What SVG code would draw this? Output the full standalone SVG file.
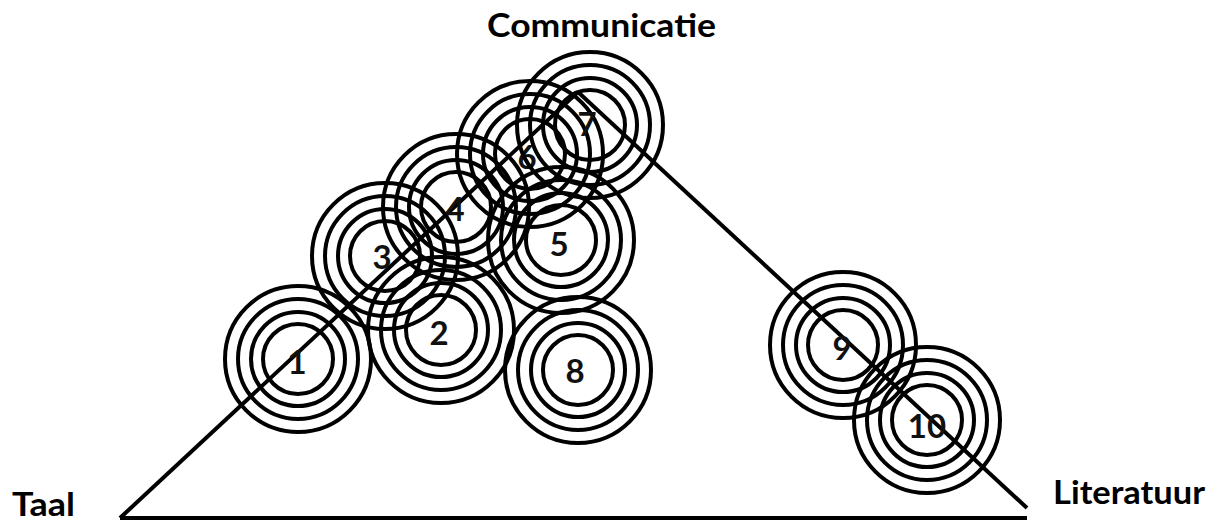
<svg xmlns="http://www.w3.org/2000/svg" width="1219" height="521" viewBox="0 0 1219 521">
<style>
.ring{fill:none;stroke:#000;stroke-width:4}
.edge{fill:none;stroke:#000;stroke-width:4;stroke-linecap:butt}
.num{font-family:Lato,"Liberation Sans",sans-serif;font-weight:bold;font-size:33px;fill:#111;text-anchor:middle;dominant-baseline:central}
.lbl{font-family:Lato,"Liberation Sans",sans-serif;font-weight:bold;font-size:32px;fill:#000}
</style>
<defs>
<g id="target">
<circle class="ring" r="35"/>
<circle class="ring" r="47"/>
<circle class="ring" r="60"/>
<circle class="ring" r="73"/>
</g>
</defs>
<rect width="1219" height="521" fill="#fff"/>
<g id="connectors">
<line class="edge" x1="120" y1="518" x2="1027" y2="518"/>
<line class="edge" x1="120" y1="518" x2="578" y2="92"/>
<line class="edge" x1="578" y1="92" x2="1027" y2="508"/>
</g>
<g id="node1"><use href="#target" x="298" y="359"/><text class="num" x="297" y="361">1</text></g>
<g id="node2"><use href="#target" x="441" y="330"/><text class="num" x="439" y="332">2</text></g>
<g id="node3"><use href="#target" x="385" y="256"/><text class="num" x="382" y="256">3</text></g>
<g id="node4"><use href="#target" x="456" y="207"/><text class="num" x="455" y="208">4</text></g>
<g id="node5"><use href="#target" x="561" y="240"/><text class="num" x="559" y="243">5</text></g>
<g id="node6"><use href="#target" x="530" y="154"/><text class="num" x="527" y="156">6</text></g>
<g id="node7"><use href="#target" x="590" y="125"/><text class="num" x="587" y="123">7</text></g>
<g id="node8"><use href="#target" x="578" y="370"/><text class="num" x="575" y="370">8</text></g>
<g id="node9"><use href="#target" x="843" y="345"/><text class="num" x="842" y="347">9</text></g>
<g id="node10"><use href="#target" x="927" y="420"/><text class="num" x="927" y="425">10</text></g>
<g id="labels">
<text class="lbl" x="487" y="37" textLength="229" lengthAdjust="spacingAndGlyphs">Communicatie</text>
<text class="lbl" x="12" y="516" textLength="63" lengthAdjust="spacingAndGlyphs">Taal</text>
<text class="lbl" x="1053" y="504" textLength="152" lengthAdjust="spacingAndGlyphs">Literatuur</text>
</g>
</svg>
